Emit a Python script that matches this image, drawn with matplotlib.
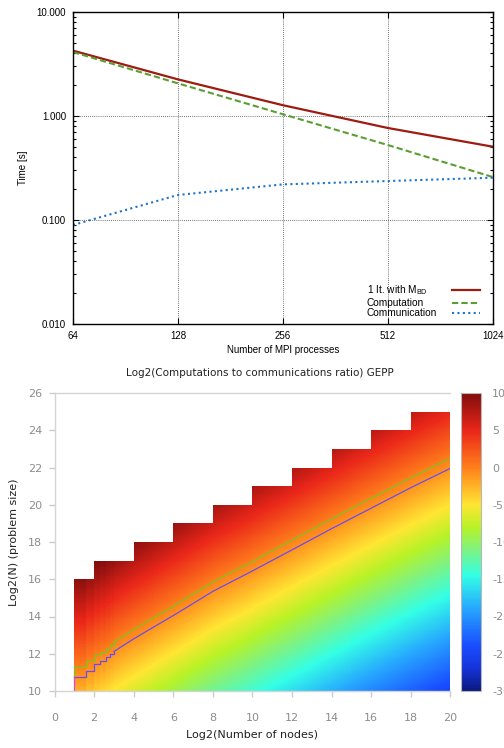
import numpy as np
import matplotlib
matplotlib.use("Agg")
import matplotlib.pyplot as plt
from matplotlib.colors import LinearSegmentedColormap
from matplotlib.ticker import FixedLocator, NullLocator, NullFormatter

# ---- top panel: strong scaling ----
procs = [64, 128, 256, 512, 1024]
t_total = [4.25, 2.25, 1.27, 0.767, 0.507]
t_comp = [4.12, 2.06, 1.04, 0.526, 0.259]
t_comm = [0.0895, 0.174, 0.220, 0.237, 0.255]
series_names = ["1 It. with M$_\\mathregular{BD}$", "Computation", "Communication"]

# ---- bottom panel: log2 ratio map ----
# column starts for 2..7 nodes (stepped part of the contours)
step_log2p = [1.0, 1.585, 2.0, 2.322, 2.585, 2.807]
green_step = [11.27, 11.63, 11.93, 12.11, 12.30, 12.47]
blue_step = [10.77, 11.07, 11.45, 11.62, 11.80, 11.97]
# smooth part of the contours
smooth_log2p = [3, 4, 5, 6, 8, 10, 12, 14, 16, 18, 20]
green_smooth = [12.62, 13.30, 13.93, 14.55, 15.85, 16.95, 18.10, 19.25, 20.35, 21.45, 22.50]
blue_smooth = [12.12, 12.80, 13.43, 14.05, 15.35, 16.45, 17.58, 18.72, 19.82, 20.92, 21.96]
# memory limit staircase (largest problem size per node range)
stair_start = [1, 2, 4, 6, 8, 10, 12, 14, 16, 18]
stair_top = [16, 17, 18, 19, 20, 21, 22, 23, 24, 25]
ratio_per_log2n = 2.0  # colour change per unit of log2(N)

cbar_ticks = [-30, -25, -20, -15, -10, -5, 0, 5, 10]

# colours sampled from the colour bar
cmap = LinearSegmentedColormap.from_list("ratio", [
    (0.000, (0.04, 0.10, 0.50)),
    (0.075, (0.08, 0.20, 0.85)),
    (0.150, (0.10, 0.30, 1.00)),
    (0.275, (0.15, 0.65, 1.00)),
    (0.387, (0.20, 1.00, 0.90)),
    (0.475, (0.50, 0.95, 0.50)),
    (0.550, (0.72, 0.95, 0.15)),
    (0.625, (1.00, 0.90, 0.20)),
    (0.750, (1.00, 0.50, 0.10)),
    (0.875, (0.92, 0.15, 0.10)),
    (1.000, (0.50, 0.05, 0.05)),
])

gp_font = "Liberation Sans"
plt.rcParams["mathtext.fontset"] = "custom"
plt.rcParams["mathtext.rm"] = gp_font
plt.rcParams["axes.unicode_minus"] = False

fig = plt.figure(figsize=(5.04, 7.48), dpi=100)

# ================= top panel (gnuplot look) =================
ax = fig.add_axes([73 / 504, 1 - 324 / 748, 419.7 / 504, 312 / 748])

styles = [
    dict(color="#9c1c12", lw=1.6, ls="-"),
    dict(color="#5a9e32", lw=1.5, ls=(0, (3, 1.5))),
    dict(color="#1f74c4", lw=1.5, ls=(0, (1, 1.6))),
]
for ys, st in zip([t_total, t_comp, t_comm], styles):
    ax.plot(procs, ys, **st)

ax.set_xscale("log", base=2)
ax.set_yscale("log")
ax.set_xlim(64, 1024)
ax.set_ylim(0.01, 10)
ax.xaxis.set_major_locator(FixedLocator(procs))
ax.xaxis.set_minor_locator(NullLocator())
ax.set_xticklabels([str(p) for p in procs])
ax.yaxis.set_major_locator(FixedLocator([0.01, 0.1, 1, 10]))
ax.set_yticklabels(["0.010", "0.100", "1.000", "10.000"])
ax.yaxis.set_minor_formatter(NullFormatter())
ax.tick_params(which="both", direction="in", top=True, right=True, labelsize=7, width=0.8)
ax.tick_params(which="major", length=4.5)
ax.tick_params(which="minor", length=2.5)
ax.tick_params(axis="x", pad=5)
ax.tick_params(axis="y", pad=5)
for lab in ax.get_xticklabels() + ax.get_yticklabels():
    lab.set_fontfamily(gp_font)
ax.grid(True, which="major", color="#444444", ls=(0, (1, 1.5)), lw=0.6)
for sp in ax.spines.values():
    sp.set_linewidth(1.0)
ax.set_xlabel("Number of MPI processes", fontsize=7, family=gp_font, labelpad=3)
ax.set_ylabel("Time [s]", fontsize=7, family=gp_font, labelpad=6)

# gnuplot-style key: left-aligned text, sample line on the right
key_rows = [0.1074, 0.0689, 0.0337]
for name, st, yk in zip(series_names, styles, key_rows):
    ax.text(0.6998, yk, name, transform=ax.transAxes, ha="left", va="center",
            fontsize=7.3, family=gp_font)
    ax.plot([0.9023, 0.9697], [yk, yk], transform=ax.transAxes, **st)

# ================= bottom panel: ratio map =================
ax2 = fig.add_axes([54.5 / 504, 1 - 691 / 748, 396 / 504, 298 / 748])
cax = fig.add_axes([461 / 504, 1 - 691 / 748, 20 / 504, 298 / 748])

x_edges = np.concatenate([step_log2p, np.round(np.linspace(3, 20, 341), 4)])
x_left = x_edges[:-1]
zero_line = np.where(
    x_left < 3,
    np.array(green_step + [green_smooth[0]])[np.clip(np.searchsorted(step_log2p, x_left, side="right") - 1, 0, None)],
    np.interp(x_left, smooth_log2p, green_smooth),
)
top_line = np.array(stair_top)[np.searchsorted(stair_start, x_left + 1e-9, side="right") - 1]

y_edges = np.linspace(10, 25, 301)
y_mid = 0.5 * (y_edges[:-1] + y_edges[1:])
Z = ratio_per_log2n * (y_mid[:, None] - zero_line[None, :])
Z = np.ma.masked_where(y_mid[:, None] > top_line[None, :], Z)

mesh = ax2.pcolormesh(x_edges, y_edges, Z, cmap=cmap, vmin=-30, vmax=10,
                      shading="flat", antialiased=False, linewidth=0)

# contour lines: stepped part, then smooth part
gx = step_log2p + [smooth_log2p[0]]
ax2.plot(gx, green_step + [green_smooth[0]], drawstyle="steps-post", color="#7cc424", lw=0.9)
ax2.plot(gx, blue_step + [blue_smooth[0]], drawstyle="steps-post", color="#6a4cf0", lw=0.9)
ax2.plot(smooth_log2p, green_smooth, color="#7cc424", lw=0.9)
ax2.plot(smooth_log2p, blue_smooth, color="#6a4cf0", lw=0.9)
ax2.plot([1, 1], [blue_step[0], green_step[0]], color="#7cc424", lw=0.9)
ax2.plot([1, 1], [10, blue_step[0]], color="#e040e0", lw=0.9)

ax2.set_xlim(0, 20)
ax2.set_ylim(10, 26)
ax2.set_xticks(range(0, 21, 2))
ax2.set_yticks(range(10, 27, 2))
ax2.spines["right"].set_visible(False)
for s in ["left", "bottom", "top"]:
    ax2.spines[s].set_color("#d4d4d4")
    ax2.spines[s].set_linewidth(1.0)
ax2.tick_params(colors="#cccccc", labelcolor="#8c8c8c", length=4, width=1, labelsize=8)
ax2.tick_params(axis="x", pad=12)
ax2.tick_params(axis="y", pad=5)
ax2.set_xlabel("Log2(Number of nodes)", fontsize=8, color="#222222", labelpad=5)
ax2.set_ylabel("Log2(N) (problem size)", fontsize=8, color="#222222", labelpad=6)
ax2.set_title("Log2(Computations to communications ratio) GEPP", fontsize=7.5,
              color="#222222", pad=12, x=0.5 + 7 / 396)

cb = fig.colorbar(mesh, cax=cax, ticks=cbar_ticks)
cb.outline.set_edgecolor("#b8b8b8")
cb.outline.set_linewidth(0.8)
cax.tick_params(length=0, labelsize=8, labelcolor="#8c8c8c", pad=8)

fig.savefig("out.png", dpi=100)
